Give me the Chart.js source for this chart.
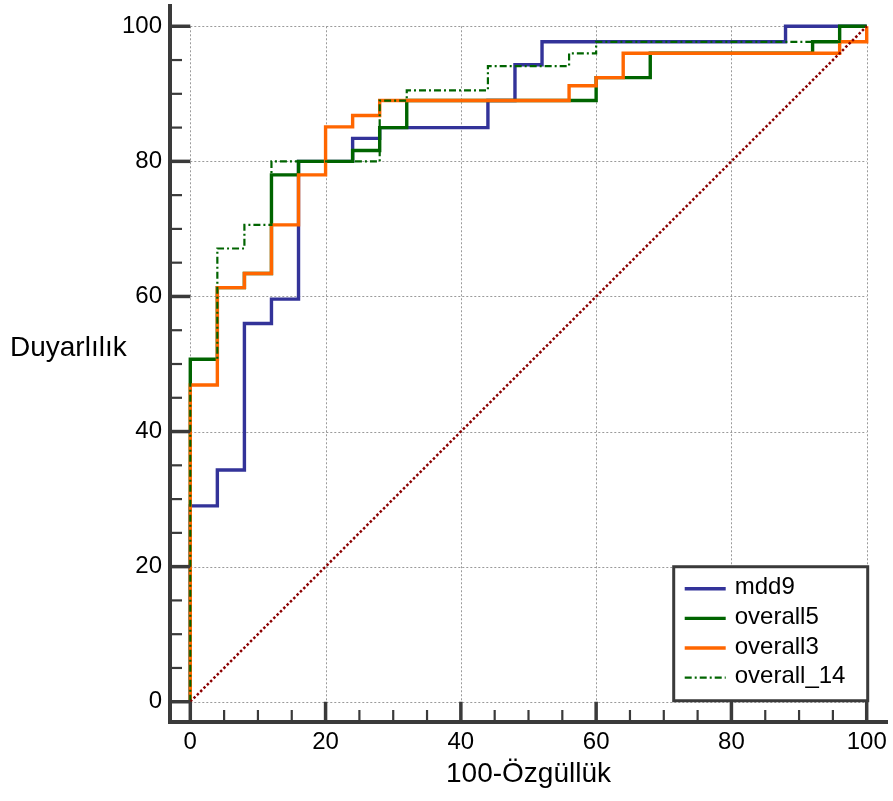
<!DOCTYPE html>
<html><head><meta charset="utf-8">
<script src="https://cdn.jsdelivr.net/npm/chart.js@4.4.0/dist/chart.umd.min.js"></script>
<style>html,body{margin:0;padding:0;background:#fff;}#wrap{width:893px;height:801px;position:relative;}</style>
</head><body><div id="wrap"><canvas id="c" width="893" height="801"></canvas></div>
<script>
// ---- data ----
const xTickValues = [0, 20, 40, 60, 80, 100];
const yTickValues = [0, 20, 40, 60, 80, 100];
const minorTickValues = [0,5,10,15,20,25,30,35,40,45,50,55,60,65,70,75,80,85,90,95,100];
const seriesNames = ['mdd9', 'overall5', 'overall3', 'overall_14'];
const xTitle = '100-Özgüllük';
const yTitle = 'Duyarlılık';

const mdd9X = [0, 0, 4, 8, 12, 16, 24, 28, 44, 48, 52, 88, 100];
const mdd9Y = [0, 29, 34.3, 56, 59.6, 80, 83.4, 85, 89, 94.3, 97.7, 100, 100];
const overall5X = [0, 0, 4, 8, 12, 16, 24, 28, 32, 60, 68, 92, 96, 100];
const overall5Y = [0, 50.7, 61.3, 63.4, 78, 80, 81.6, 85, 89, 92.4, 96, 97.7, 100, 100];
const overall3X = [0, 0, 4, 8, 12, 16, 20, 24, 28, 56, 60, 64, 96, 100];
const overall3Y = [0, 46.9, 61.3, 63.4, 70.6, 78, 85.1, 86.8, 89, 91.2, 92.4, 96, 97.7, 100];
const overall14X = [0, 0, 4, 8, 12, 28, 32, 44, 56, 60, 96, 100];
const overall14Y = [0, 50.7, 67.1, 70.6, 80, 89, 90.5, 94.1, 96, 97.7, 100, 100];
const refX = [0, 100];
const refY = [0, 100];

const pts = (xs, ys) => xs.map((x, i) => ({x: x, y: ys[i]}));
const FONT = "'Liberation Sans', Arial, sans-serif";
const AXIS_COLOR = '#3a3a3a';

const datasets = [
  {label: seriesNames[0], data: pts(mdd9X, mdd9Y), borderColor: '#333399', borderWidth: 3.4, stepped: 'before', order: 5},
  {label: seriesNames[1], data: pts(overall5X, overall5Y), borderColor: '#006400', borderWidth: 3.4, stepped: 'before', order: 4},
  {label: seriesNames[2], data: pts(overall3X, overall3Y), borderColor: '#ff6600', borderWidth: 3.4, stepped: 'before', order: 3},
  {label: seriesNames[3], data: pts(overall14X, overall14Y), borderColor: '#006400', borderWidth: 2.2, borderDash: [7, 3, 2, 3], stepped: 'before', order: 2},
  {label: 'ref', data: pts(refX, refY), borderColor: '#8b0000', borderWidth: 2.5, borderDash: [2.5, 2.2], order: 1, noLegend: true}
].map(d => Object.assign({showLine: true, pointRadius: 0, pointHoverRadius: 0, fill: false, tension: 0, borderCapStyle: 'butt', borderJoinStyle: 'miter'}, d));

const gridPlugin = {
  id: 'rocGrid',
  beforeDatasetsDraw(chart) {
    const {ctx} = chart; const xs = chart.scales.x, ys = chart.scales.y;
    const x0 = xs.getPixelForValue(0), x1 = xs.getPixelForValue(100);
    const y0 = ys.getPixelForValue(0), y1 = ys.getPixelForValue(100);
    ctx.save();
    ctx.strokeStyle = '#9a9a9a'; ctx.lineWidth = 1; ctx.setLineDash([2, 2]);
    xTickValues.forEach(v => { const p = Math.round(xs.getPixelForValue(v)) + 0.5; ctx.beginPath(); ctx.moveTo(p, y1); ctx.lineTo(p, y0); ctx.stroke(); });
    yTickValues.forEach(v => { const p = Math.round(ys.getPixelForValue(v)) + 0.5; ctx.beginPath(); ctx.moveTo(x0, p); ctx.lineTo(x1, p); ctx.stroke(); });
    ctx.restore();
  },
  afterDatasetsDraw(chart) {
    const {ctx, chartArea} = chart; const xs = chart.scales.x, ys = chart.scales.y;
    const axisX = chartArea.left, axisY = chartArea.bottom;
    const majLenX = axisY - ys.getPixelForValue(0);
    const majLenY = xs.getPixelForValue(0) - axisX;
    ctx.save(); ctx.strokeStyle = AXIS_COLOR; ctx.setLineDash([]);
    minorTickValues.forEach(v => {
      const major = v % 20 === 0;
      ctx.lineWidth = major ? 3.5 : 2.2;
      const px = xs.getPixelForValue(v);
      ctx.beginPath(); ctx.moveTo(px, axisY); ctx.lineTo(px, axisY - (major ? majLenX : 12)); ctx.stroke();
      const py = ys.getPixelForValue(v);
      ctx.beginPath(); ctx.moveTo(axisX, py); ctx.lineTo(axisX + (major ? majLenY : 12), py); ctx.stroke();
    });
    ctx.restore();
  },
  afterDraw(chart) {
    const {ctx} = chart; const xs = chart.scales.x, ys = chart.scales.y;
    ctx.save();
    ctx.fillStyle = '#000'; ctx.font = '28px ' + FONT; ctx.textAlign = 'left'; ctx.textBaseline = 'middle';
    ctx.fillText(yTitle, 10, ys.getPixelForValue(52.3));
    const right = xs.getPixelForValue(100) + 1, bottom = ys.getPixelForValue(0) - 1;
    const w = 194, h = 134, left = right - w, top = bottom - h;
    ctx.fillStyle = '#fff'; ctx.fillRect(left, top, w, h);
    ctx.strokeStyle = AXIS_COLOR; ctx.lineWidth = 3; ctx.strokeRect(left, top, w, h);
    const items = chart.data.datasets.filter(d => !d.noLegend);
    ctx.font = '24px ' + FONT; ctx.textBaseline = 'middle';
    items.forEach((d, i) => {
      const yy = top + 22 + i * 29.6;
      ctx.strokeStyle = d.borderColor; ctx.lineWidth = d.borderWidth;
      ctx.setLineDash(d.borderDash || []);
      ctx.beginPath(); ctx.moveTo(left + 11, yy); ctx.lineTo(left + 52, yy); ctx.stroke();
      ctx.setLineDash([]);
      ctx.fillStyle = '#000'; ctx.fillText(d.label, left + 61, yy - 1);
    });
    ctx.restore();
  }
};

new Chart(document.getElementById('c'), {
  type: 'scatter',
  data: {datasets: datasets},
  plugins: [gridPlugin],
  options: {
    responsive: false, animation: false, maintainAspectRatio: false,
    layout: {padding: {left: 0, right: 6, top: 6, bottom: 0}},
    plugins: {legend: {display: false}, tooltip: {enabled: false}, title: {display: false}},
    scales: {
      x: {
        type: 'linear', min: -3, max: 103,
        afterBuildTicks: s => { s.ticks = xTickValues.map(v => ({value: v})); },
        afterFit: s => { s.height = 79; s.paddingLeft = 0; s.paddingRight = 0; },
        grid: {display: false, drawTicks: false},
        border: {display: true, color: AXIS_COLOR, width: 4},
        ticks: {color: '#000', font: {family: FONT, size: 24}, padding: 6, maxRotation: 0, autoSkip: false},
        title: {display: true, text: xTitle, color: '#000', font: {family: FONT, size: 28}, padding: {top: 0, bottom: 10}}
      },
      y: {
        type: 'linear', min: -3, max: 103,
        afterBuildTicks: s => { s.ticks = yTickValues.map(v => ({value: v})); },
        afterFit: s => { s.width = 170; s.paddingTop = 0; s.paddingBottom = 0; },
        grid: {display: false, drawTicks: false},
        border: {display: true, color: AXIS_COLOR, width: 4},
        ticks: {color: '#000', font: {family: FONT, size: 24}, padding: 8, autoSkip: false}
      }
    }
  }
});
</script></body></html>
